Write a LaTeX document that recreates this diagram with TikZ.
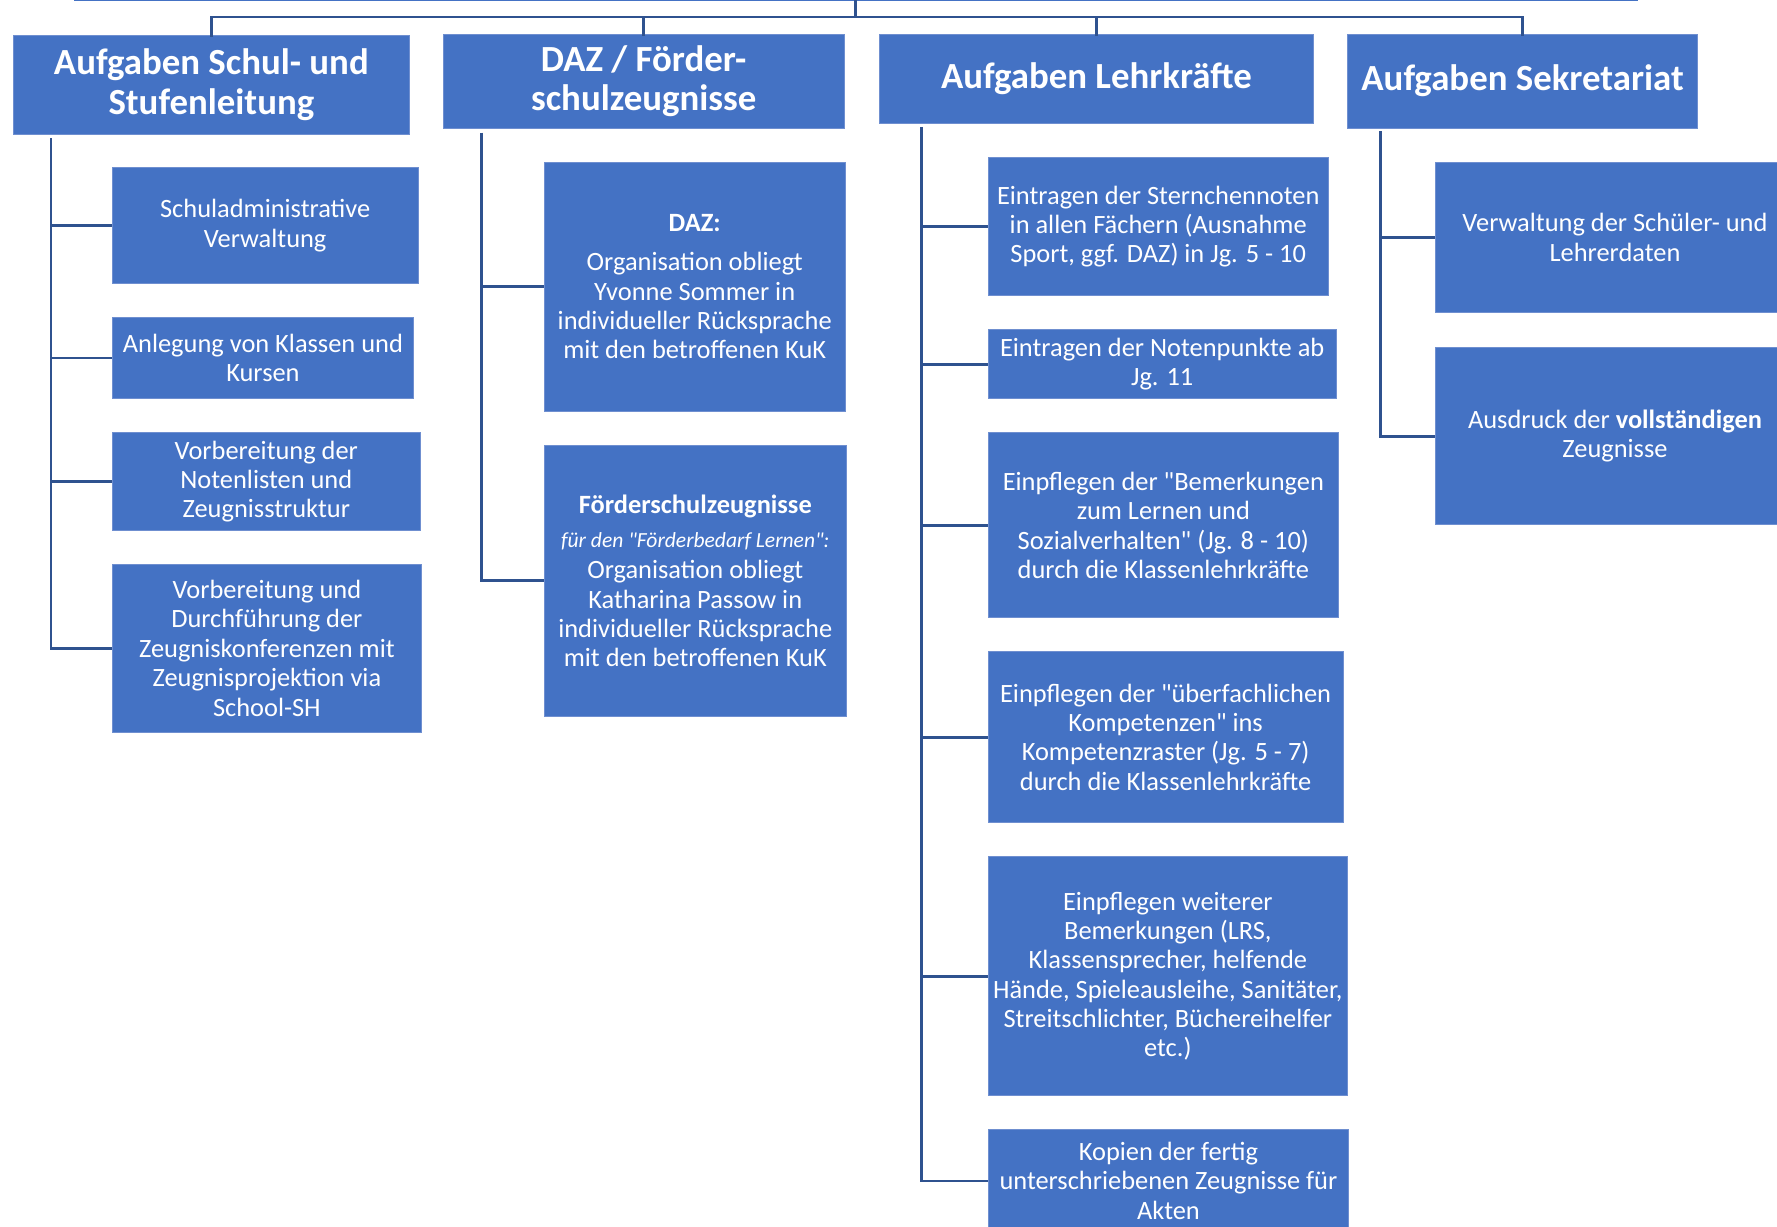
\documentclass[tikz,border=0pt]{standalone}
\usepackage{fontspec}
\setmainfont{Carlito}[Ligatures=TeXOff]
\definecolor{boxblue}{HTML}{4472C4}
\definecolor{linedark}{HTML}{2F528F}
\definecolor{edgeblue}{HTML}{6F8FD0}
\begin{document}
\begin{tikzpicture}[x=1pt,y=-1pt,
  box/.style={rectangle, fill=boxblue, draw=edgeblue, line width=0.8pt, text=white, align=center, inner sep=2pt,
    font=\fontsize{23.3}{25.9}\selectfont},
  head/.style={box, font=\bfseries\fontsize{32.5}{35}\selectfont},
  conn/.style={draw=linedark, line width=2.4pt},
  topline/.style={draw=boxblue, line width=2.5pt}]
\useasboundingbox (0,0) rectangle (1568,1082);
\clip (0,0) rectangle (1568,1082);

% headers
\node[head, minimum width=349, minimum height=88] (h1) at (186.5,75) {Aufgaben Schul- und\\Stufenleitung};
\node[head, minimum width=354, minimum height=83] (h2) at (568,71.5) {DAZ / Förder-\\schulzeugnisse};
\node[head, minimum width=383, minimum height=79] (h3) at (967.5,69.5) {Aufgaben Lehrkräfte};
\node[head, minimum width=309, minimum height=83] (h4) at (1343.5,71.5) {Aufgaben Sekretariat};

% column 1
\node[box, minimum width=270, minimum height=102] (c1a) at (234,199) {Schuladministrative\\Verwaltung};
\node[box, minimum width=266, minimum height=72] (c1b) at (232,316) {Anlegung von Klassen und\\Kursen};
\node[box, minimum width=272, minimum height=86] (c1c) at (235,425) {Vorbereitung der\\Notenlisten und\\Zeugnisstruktur};
\node[box, minimum width=273, minimum height=148] (c1d) at (235.5,572) {Vorbereitung und\\Durchführung der\\Zeugniskonferenzen mit\\Zeugnisprojektion via\\School-SH};

% column 2
\node[box, minimum width=266, minimum height=220] (c2a) at (613,253) {\textbf{DAZ:}\\[9pt]Organisation obliegt\\Yvonne Sommer in\\individueller Rücksprache\\mit den betroffenen KuK};
\node[box, minimum width=267, minimum height=239] (c2b) at (613.5,512.5) {\textbf{Förderschulzeugnisse}\\[4pt]{\itshape\fontsize{19}{21}\selectfont für den "Förderbedarf Lernen":}\\[2pt]Organisation obliegt\\Katharina Passow in\\individueller Rücksprache\\mit den betroffenen KuK};

% column 3
\node[box, minimum width=300, minimum height=122] (c3a) at (1022,200) {Eintragen der Sternchennoten\\in allen Fächern (Ausnahme\\Sport, ggf. DAZ) in Jg. 5 - 10};
\node[box, minimum width=307, minimum height=61] (c3b) at (1025.5,321.5) {Eintragen der Notenpunkte ab\\Jg. 11};
\node[box, minimum width=309, minimum height=163] (c3c) at (1026.5,463.5) {Einpflegen der "Bemerkungen\\zum Lernen und\\Sozialverhalten" (Jg. 8 - 10)\\durch die Klassenlehrkräfte};
\node[box, minimum width=313, minimum height=151] (c3d) at (1028.5,650.5) {Einpflegen der "überfachlichen\\Kompetenzen" ins\\Kompetenzraster (Jg. 5 - 7)\\durch die Klassenlehrkräfte};
\node[box, minimum width=317, minimum height=211] (c3e) at (1030.5,861.5) {Einpflegen weiterer\\Bemerkungen (LRS,\\Klassensprecher, helfende\\Hände, Spieleausleihe, Sanitäter,\\Streitschlichter, Büchereihelfer\\etc.)};
\node[box, minimum width=318, minimum height=90] (c3f) at (1031,1042) {Kopien der fertig\\unterschriebenen Zeugnisse für\\Akten};

% column 4
\node[box, minimum width=316, minimum height=133] (c4a) at (1425,209.5) {Verwaltung der Schüler- und\\Lehrerdaten};
\node[box, minimum width=316, minimum height=156] (c4b) at (1425,385) {Ausdruck der \textbf{vollständigen}\\Zeugnisse};

% top structure
\coordinate (tl) at (65,0);
\coordinate (tr) at (1445,0);
\draw[topline] (tl) -- (tr);
\coordinate (root) at (755,0);
\coordinate (bus) at (755,15);
\draw[conn] (root) -- (bus);
\draw[conn] (bus) -| ([yshift=-2pt]h1.north);
\draw[conn] (bus) -| ([yshift=-2pt]h2.north);
\draw[conn] (bus) -| ([yshift=-2pt]h3.north);
\draw[conn] (bus) -| ([yshift=-2pt]h4.north);

% spines
\coordinate (s1) at (45,122);
\coordinate (s2) at (425,117);
\coordinate (s3) at (813,112);
\coordinate (s4) at (1218,116);

\draw[conn] (s1) |- (c1d.west);
\foreach \n in {c1a,c1b,c1c} \draw[conn] (s1 |- \n.west) -- (\n.west);
\draw[conn] (s2) |- (c2b.west);
\draw[conn] (s2 |- c2a.west) -- (c2a.west);
\draw[conn] (s3) |- (c3f.west);
\foreach \n in {c3a,c3b,c3c,c3d,c3e} \draw[conn] (s3 |- \n.west) -- (\n.west);
\draw[conn] (s4) |- (c4b.west);
\draw[conn] (s4 |- c4a.west) -- (c4a.west);
\end{tikzpicture}
\end{document}
